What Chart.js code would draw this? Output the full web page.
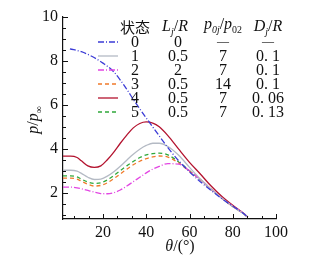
<!DOCTYPE html>
<html>
<head>
<meta charset="utf-8">
<script src="https://cdn.jsdelivr.net/npm/chart.js@4"></script>
<style>
  html, body { margin: 0; padding: 0; background: #fff; }
  #wrap { width: 321px; height: 261px; position: relative; }
</style>
</head>
<body>
<div id="wrap"><canvas id="pressureChart"></canvas></div>
<script>
// theta (deg) sample positions
const thetaBlue = [4.7, 10, 15, 20, 25, 30, 35, 40, 45, 50, 55, 60, 65, 70, 75, 80, 85, 87]
const theta = [1.5, 5, 8, 10, 13, 16, 19, 22, 25, 28, 31, 34, 37, 40, 43, 46, 50, 55, 60, 65, 70, 75, 80, 85, 87]

// p/p_inf for each state
const p0 = [8.55, 8.42, 8.2, 7.9, 7.5, 6.85, 6.1, 5.4, 4.72, 4.05, 3.45, 2.95, 2.5, 2.1, 1.72, 1.38, 1.05, 0.88]
const p1 = [3.02, 3.02, 2.98, 2.88, 2.7, 2.6, 2.62, 2.75, 2.95, 3.2, 3.48, 3.75, 3.98, 4.15, 4.25, 4.25, 4.1, 3.7, 3.15, 2.62, 2.15, 1.74, 1.37, 1.04, 0.88]
const p2 = [2.25, 2.25, 2.22, 2.18, 2.1, 2.02, 1.96, 1.95, 2.0, 2.12, 2.3, 2.5, 2.7, 2.9, 3.07, 3.2, 3.32, 3.3, 3.0, 2.6, 2.16, 1.75, 1.38, 1.05, 0.88]
const p3 = [2.66, 2.66, 2.62, 2.52, 2.38, 2.3, 2.33, 2.45, 2.64, 2.85, 3.07, 3.27, 3.43, 3.55, 3.63, 3.67, 3.62, 3.35, 2.97, 2.6, 2.15, 1.74, 1.37, 1.04, 0.88]
const p4 = [3.66, 3.66, 3.6, 3.45, 3.22, 3.15, 3.22, 3.5, 3.85, 4.25, 4.62, 4.95, 5.15, 5.22, 5.17, 5.0, 4.6, 3.98, 3.38, 2.85, 2.3, 1.82, 1.42, 1.06, 0.88]
const p5 = [2.76, 2.76, 2.72, 2.62, 2.48, 2.42, 2.45, 2.58, 2.78, 3.0, 3.22, 3.42, 3.6, 3.72, 3.78, 3.8, 3.72, 3.4, 3.0, 2.6, 2.15, 1.74, 1.37, 1.04, 0.88]

// legend table
const states = ['0', '1', '2', '3', '4', '5']
const ljR = ['0', '0.5', '2', '0.5', '0.5', '0.5']
const p0jRatio = ['—', '7', '7', '14', '7', '7']
const djR = ['—', '0. 1', '0. 1', '0. 1', '0. 06', '0. 13']

// axis ticks
const xTicks = [20, 40, 60, 80, 100]
const yTicks = [2, 4, 6, 8, 10]

const serif = '"Liberation Serif", "DejaVu Serif", serif'
const ink = '#111'

function pts(xs, ys) {
  return xs.map((x, i) => ({ x: x, y: ys[i] }))
}

const styles = [
  { color: '#3b3bd6', dash: [6, 2, 1, 2] },
  { color: '#b4bac4', dash: [] },
  { color: '#e246e2', dash: [6, 2, 1, 2] },
  { color: '#f07a2a', dash: [4, 3] },
  { color: '#b3122e', dash: [] },
  { color: '#2fa83a', dash: [4, 3] }
]
const series = [pts(thetaBlue, p0), pts(theta, p1), pts(theta, p2), pts(theta, p3), pts(theta, p4), pts(theta, p5)]

const datasets = series.map((d, i) => ({
  label: states[i],
  data: d,
  showLine: true,
  borderColor: styles[i].color,
  borderDash: styles[i].dash,
  borderWidth: 1.3,
  pointRadius: 0,
  cubicInterpolationMode: 'monotone',
  fill: false
}))

// draw a string made of segments (italic / subscript) centred at cx
function richText(ctx, segs, cx, y, size) {
  const parts = segs.map((s) => {
    const fs = s.sub ? size * 0.62 : size
    const font = (s.italic ? 'italic ' : '') + fs + 'px ' + (s.cjk ? '"Noto Sans CJK SC", sans-serif' : serif)
    ctx.font = font
    return { t: s.t, font: font, w: ctx.measureText(s.t).width, dy: s.sub ? size * 0.25 : 0 }
  })
  const total = parts.reduce((a, p) => a + p.w, 0)
  let x = cx - total / 2
  ctx.textAlign = 'left'
  ctx.textBaseline = 'alphabetic'
  parts.forEach((p) => {
    ctx.font = p.font
    ctx.fillText(p.t, x, y + p.dy)
    x += p.w
  })
}

const decorPlugin = {
  id: 'decor',
  afterDraw(chart) {
    const ctx = chart.ctx
    const xs = chart.scales.x
    const ys = chart.scales.y
    const bottom = chart.chartArea.bottom
    const left = chart.chartArea.left
    ctx.save()
    ctx.strokeStyle = ink
    ctx.lineWidth = 1
    // inward ticks on x
    for (let k = 1; k <= 15; k++) {
      const v = (k * 20) / 3
      if (v > 100) break
      const major = k % 3 === 0
      const px = Math.round(xs.getPixelForValue(v)) + 0.5
      ctx.beginPath()
      ctx.moveTo(px, bottom)
      ctx.lineTo(px, bottom - (major ? 5 : 3))
      ctx.stroke()
    }
    // inward ticks on y
    for (let v = 1; v <= 10; v += 0.5) {
      const major = v % 2 === 0
      const py = Math.round(ys.getPixelForValue(v)) + 0.5
      ctx.beginPath()
      ctx.moveTo(left, py)
      ctx.lineTo(left + (major ? 5 : 3), py)
      ctx.stroke()
    }

    ctx.fillStyle = ink
    // axis titles
    richText(ctx, [
      { t: 'θ', italic: true },
      { t: '/(°)' }
    ], 180, 251, 16)
    ctx.save()
    ctx.translate(38, 120)
    ctx.rotate(-Math.PI / 2)
    richText(ctx, [
      { t: 'p', italic: true },
      { t: '/' },
      { t: 'p', italic: true },
      { t: '∞', sub: true }
    ], 0, 0, 16)
    ctx.restore()

    // legend table header
    richText(ctx, [{ t: '状态', cjk: true }], 135, 33, 15)
    richText(ctx, [{ t: 'L', italic: true }, { t: 'j', italic: true, sub: true }, { t: '/' }, { t: 'R', italic: true }], 175, 31, 16)
    richText(ctx, [{ t: 'p', italic: true }, { t: '0j', italic: true, sub: true }, { t: '/' }, { t: 'p', italic: true }, { t: '02', sub: true }], 223, 29, 16)
    richText(ctx, [{ t: 'D', italic: true }, { t: 'j', italic: true, sub: true }, { t: '/' }, { t: 'R', italic: true }], 268, 31, 16)

    // legend rows
    chart.data.datasets.forEach((ds, i) => {
      const y = 42 + i * 14
      ctx.strokeStyle = ds.borderColor
      ctx.lineWidth = 1.3
      ctx.setLineDash(ds.borderDash)
      ctx.beginPath()
      ctx.moveTo(98, y)
      ctx.lineTo(118, y)
      ctx.stroke()
      ctx.setLineDash([])
      ctx.fillStyle = ink
      richText(ctx, [{ t: states[i] }], 135, y + 5, 16)
      richText(ctx, [{ t: ljR[i] }], 178, y + 5, 16)
      if (i === 0) {
        richText(ctx, [{ t: p0jRatio[i] }], 223, y + 3, 12)
        richText(ctx, [{ t: djR[i] }], 268, y + 3, 12)
      } else {
        richText(ctx, [{ t: p0jRatio[i] }], 223, y + 5, 16)
        richText(ctx, [{ t: djR[i] }], 268, y + 5, 16)
      }
    })
    ctx.restore()
  }
}

new Chart(document.getElementById('pressureChart'), {
  type: 'scatter',
  data: { datasets: datasets },
  plugins: [decorPlugin],
  options: {
    responsive: true,
    maintainAspectRatio: false,
    animation: false,
    layout: { padding: { top: 17, right: 45, left: 0, bottom: 0 } },
    plugins: {
      legend: { display: false },
      tooltip: { enabled: false }
    },
    scales: {
      x: {
        type: 'linear',
        min: 1.5,
        max: 100,
        afterFit: (scale) => { scale.height = 42 },
        afterBuildTicks: (scale) => { scale.ticks = xTicks.map((v) => ({ value: v })) },
        grid: { display: false, drawTicks: false },
        border: { display: true, color: ink, width: 1.2 },
        ticks: { color: ink, padding: 4, font: { family: serif, size: 16 }, maxRotation: 0 }
      },
      y: {
        type: 'linear',
        min: 0.8,
        max: 10,
        afterFit: (scale) => { scale.width = 63 },
        afterBuildTicks: (scale) => { scale.ticks = yTicks.map((v) => ({ value: v })) },
        grid: { display: false, drawTicks: false },
        border: { display: true, color: ink, width: 1.2 },
        ticks: { color: ink, padding: 5, font: { family: serif, size: 16 } }
      }
    }
  }
})
</script>
</body>
</html>
